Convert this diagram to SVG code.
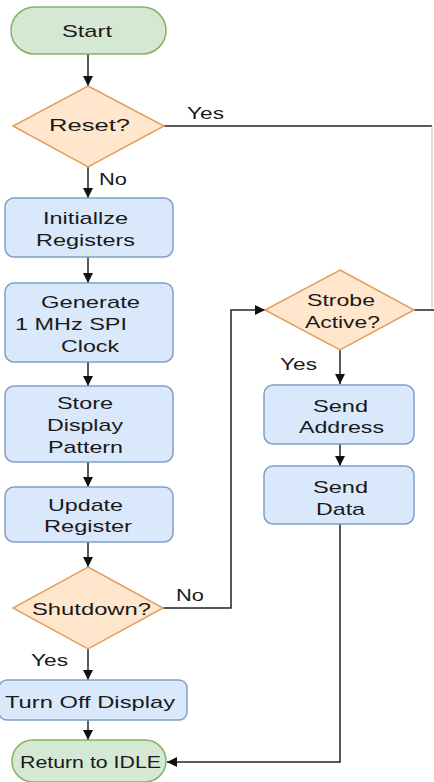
<svg xmlns="http://www.w3.org/2000/svg" width="434" height="782" viewBox="0 0 434 782">
<style>
text{font-family:"Liberation Sans",Arial,sans-serif;font-size:17px;fill:#1a1a1a}
.term{fill:#d5e8d4;stroke:#82b366;stroke-width:1.5}
.dec{fill:#ffe6cc;stroke:#e0a060;stroke-width:1.5}
.proc{fill:#dae8fc;stroke:#7f9fc8;stroke-width:1.5}
.conn{fill:none;stroke:#222;stroke-width:1.5}
.faint{fill:none;stroke:#c8c8c8;stroke-width:1.2}
</style>
<defs>
<marker id="arr" viewBox="0 0 10 10" refX="10" refY="5" markerWidth="10" markerHeight="10" markerUnits="userSpaceOnUse" orient="auto">
<path d="M0,0 L10,5 L0,10 z" fill="#111"/>
</marker>
</defs>
<rect width="434" height="782" fill="#fff"/>
<g id="connectors">
<line class="conn" x1="88" y1="54" x2="88" y2="86" marker-end="url(#arr)"/>
<line class="conn" x1="88" y1="167" x2="88" y2="198" marker-end="url(#arr)"/>
<line class="conn" x1="88" y1="257" x2="88" y2="283" marker-end="url(#arr)"/>
<line class="conn" x1="88" y1="362" x2="88" y2="386" marker-end="url(#arr)"/>
<line class="conn" x1="88" y1="462" x2="88" y2="487" marker-end="url(#arr)"/>
<line class="conn" x1="88" y1="542" x2="88" y2="567" marker-end="url(#arr)"/>
<line class="conn" x1="88" y1="649" x2="88" y2="680" marker-end="url(#arr)"/>
<line class="conn" x1="88" y1="720" x2="88" y2="740" marker-end="url(#arr)"/>
<polyline class="conn" points="164,126 432,126"/>
<polyline class="faint" points="432,126 432,309"/>
<polyline class="conn" points="414,310 434,310"/>
<polyline class="conn" points="163,608 231,608 231,310 265,310" marker-end="url(#arr)"/>
<line class="conn" x1="340" y1="350" x2="340" y2="384" marker-end="url(#arr)"/>
<line class="conn" x1="340" y1="444" x2="340" y2="466" marker-end="url(#arr)"/>
<polyline class="conn" points="340,524 340,762 167,762" marker-end="url(#arr)"/>
<text x="187" y="119" textLength="37" lengthAdjust="spacingAndGlyphs">Yes</text>
<text x="99" y="185" textLength="28" lengthAdjust="spacingAndGlyphs">No</text>
<text x="280" y="370" textLength="37" lengthAdjust="spacingAndGlyphs">Yes</text>
<text x="176" y="601" textLength="28" lengthAdjust="spacingAndGlyphs">No</text>
<text x="31" y="666" textLength="37" lengthAdjust="spacingAndGlyphs">Yes</text>
</g>
<g id="start">
<rect class="term" x="11" y="7" width="155" height="47" rx="23.5"/>
<text x="62" y="37" textLength="50" lengthAdjust="spacingAndGlyphs">Start</text>
</g>
<g id="reset">
<polygon class="dec" points="88,86 164,126 88,167 13,126"/>
<text x="49" y="131" textLength="81" lengthAdjust="spacingAndGlyphs">Reset?</text>
</g>
<g id="init">
<rect class="proc" x="5" y="198" width="168" height="59" rx="9"/>
<text x="43" y="224" textLength="85" lengthAdjust="spacingAndGlyphs">Initiallze</text>
<text x="36" y="246" textLength="99" lengthAdjust="spacingAndGlyphs">Registers</text>
</g>
<g id="generate">
<rect class="proc" x="5" y="283" width="168" height="79" rx="9"/>
<text x="41" y="308" textLength="99" lengthAdjust="spacingAndGlyphs">Generate</text>
<text x="15" y="330" textLength="112" lengthAdjust="spacingAndGlyphs">1 MHz SPI</text>
<text x="61" y="352" textLength="58" lengthAdjust="spacingAndGlyphs">Clock</text>
</g>
<g id="store">
<rect class="proc" x="5" y="386" width="168" height="76" rx="9"/>
<text x="57" y="409" textLength="56" lengthAdjust="spacingAndGlyphs">Store</text>
<text x="47" y="431" textLength="76" lengthAdjust="spacingAndGlyphs">Display</text>
<text x="48" y="453" textLength="75" lengthAdjust="spacingAndGlyphs">Pattern</text>
</g>
<g id="update">
<rect class="proc" x="5" y="487" width="168" height="55" rx="9"/>
<text x="48" y="511" textLength="75" lengthAdjust="spacingAndGlyphs">Update</text>
<text x="44" y="532" textLength="88" lengthAdjust="spacingAndGlyphs">Register</text>
</g>
<g id="shutdown">
<polygon class="dec" points="88,567 163,608 88,649 13,608"/>
<text x="32" y="615" textLength="119" lengthAdjust="spacingAndGlyphs">Shutdown?</text>
</g>
<g id="turnoff">
<rect class="proc" x="-1" y="680" width="188" height="40" rx="8"/>
<text x="5" y="708" textLength="170" lengthAdjust="spacingAndGlyphs">Turn Off Display</text>
</g>
<g id="idle">
<rect class="term" x="12" y="740" width="154" height="42" rx="21"/>
<text x="20" y="768" textLength="141" lengthAdjust="spacingAndGlyphs">Return to IDLE</text>
</g>
<g id="strobe">
<polygon class="dec" points="340,270 414,310 340,350 265,310"/>
<text x="307" y="306" textLength="68" lengthAdjust="spacingAndGlyphs">Strobe</text>
<text x="305" y="328" textLength="75" lengthAdjust="spacingAndGlyphs">Active?</text>
</g>
<g id="sendaddr">
<rect class="proc" x="264" y="385" width="150" height="59" rx="9"/>
<text x="313" y="412" textLength="55" lengthAdjust="spacingAndGlyphs">Send</text>
<text x="299" y="433" textLength="85" lengthAdjust="spacingAndGlyphs">Address</text>
</g>
<g id="senddata">
<rect class="proc" x="264" y="466" width="150" height="58" rx="9"/>
<text x="313" y="493" textLength="55" lengthAdjust="spacingAndGlyphs">Send</text>
<text x="316" y="515" textLength="49" lengthAdjust="spacingAndGlyphs">Data</text>
</g>
</svg>
